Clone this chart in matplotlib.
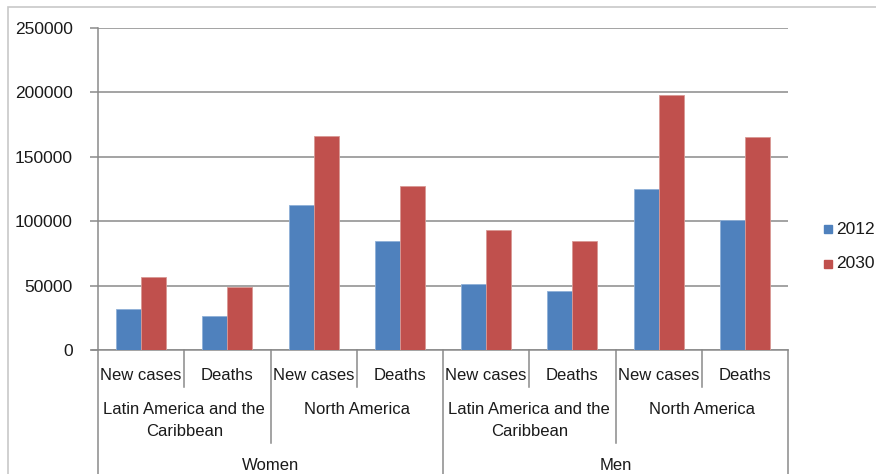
import matplotlib.pyplot as plt
import matplotlib.transforms as mtransforms
from matplotlib.patches import Rectangle

plt.rcParams['font.family'] = ['Liberation Sans', 'DejaVu Sans']

# data: one bar pair per measure, grouped by region and sex
measures = ['New cases', 'Deaths', 'New cases', 'Deaths',
            'New cases', 'Deaths', 'New cases', 'Deaths']
regions = ['Latin America and the\nCaribbean', 'North America',
           'Latin America and the\nCaribbean', 'North America']
sexes = ['Women', 'Men']
vals_2012 = [32000, 26500, 112500, 84500, 51500, 46000, 125000, 101000]
vals_2030 = [56500, 49000, 166500, 127500, 93000, 84500, 198000, 165500]
series = ['2012', '2030']
colors = ['#4F81BD', '#C0504D']

W, H = 876, 474
fig = plt.figure(figsize=(W / 100, H / 100), dpi=100)

def fy(px):
    return 1 - px / H

# outer chart frame
fig.patches.append(Rectangle((8 / W, fy(880)), 1.2, fy(7) - fy(880),
                             transform=fig.transFigure, fill=False,
                             edgecolor='#c8c8c8', lw=1.2))

ax = fig.add_axes([98 / W, fy(350), 690 / W, (350 - 28) / H])
n = len(measures)
x = [i + 0.5 for i in range(n)]
w = 0.29
ax.bar([v - w / 2 for v in x], vals_2012, w, color=colors[0],
       edgecolor='#8fb0d8', lw=0.6, label=series[0], zorder=3)
ax.bar([v + w / 2 for v in x], vals_2030, w, color=colors[1],
       edgecolor='#d99894', lw=0.6, label=series[1], zorder=3)

ax.set_xlim(0, n)
ax.set_ylim(0, 250000)
ax.set_yticks(range(0, 250001, 50000))
ax.yaxis.grid(True, color='#8a8a8a', lw=1.1)
ax.set_axisbelow(True)
for s in ['top', 'right', 'bottom']:
    ax.spines[s].set_visible(False)
ax.spines['left'].set_color('#8a8a8a')
ax.spines['left'].set_linewidth(1.1)
ax.tick_params(axis='y', length=6, color='#8a8a8a', width=1.1,
               labelsize=12.5, labelcolor='#1a1a1a', pad=12)
ax.set_xticks([])

# multi-level category axis below the plot
tr = mtransforms.blended_transform_factory(ax.transData, fig.transFigure)
gray = '#8a8a8a'
ax.plot([-0.07, n], [fy(350), fy(350)], transform=tr, color=gray, lw=1.1,
        clip_on=False)
for xv in [1, 3, 5, 7]:
    ax.plot([xv, xv], [fy(350), fy(387)], transform=tr, color=gray,
            lw=1.1, clip_on=False)
for xv in [2, 6]:
    ax.plot([xv, xv], [fy(350), fy(443)], transform=tr, color=gray,
            lw=1.1, clip_on=False)
for xv in [0, 4, 8]:
    ax.plot([xv, xv], [fy(350), fy(480)], transform=tr, color=gray,
            lw=1.1, clip_on=False)

txt = dict(transform=tr, ha='center', fontsize=12, color='#1a1a1a')
for xv, m in zip(x, measures):
    ax.text(xv, fy(375), m, va='center', **txt)
for i, r in enumerate(regions):
    ax.text(2 * i + 1, fy(402), r, va='top', linespacing=1.6, **txt)
for i, s in enumerate(sexes):
    ax.text(4 * i + 2, fy(466), s, va='center', **txt)

# legend
for k, (lab, c) in enumerate(zip(series, colors)):
    yy = 229 + 35 * k
    fig.patches.append(Rectangle((824 / W, fy(yy + 4)), 8 / W, 8 / H,
                                 transform=fig.transFigure, color=c))
    fig.text(836 / W, fy(yy), lab, va='center', ha='left', fontsize=12.5,
             color='#1a1a1a')

fig.savefig('out.png', dpi=100)
